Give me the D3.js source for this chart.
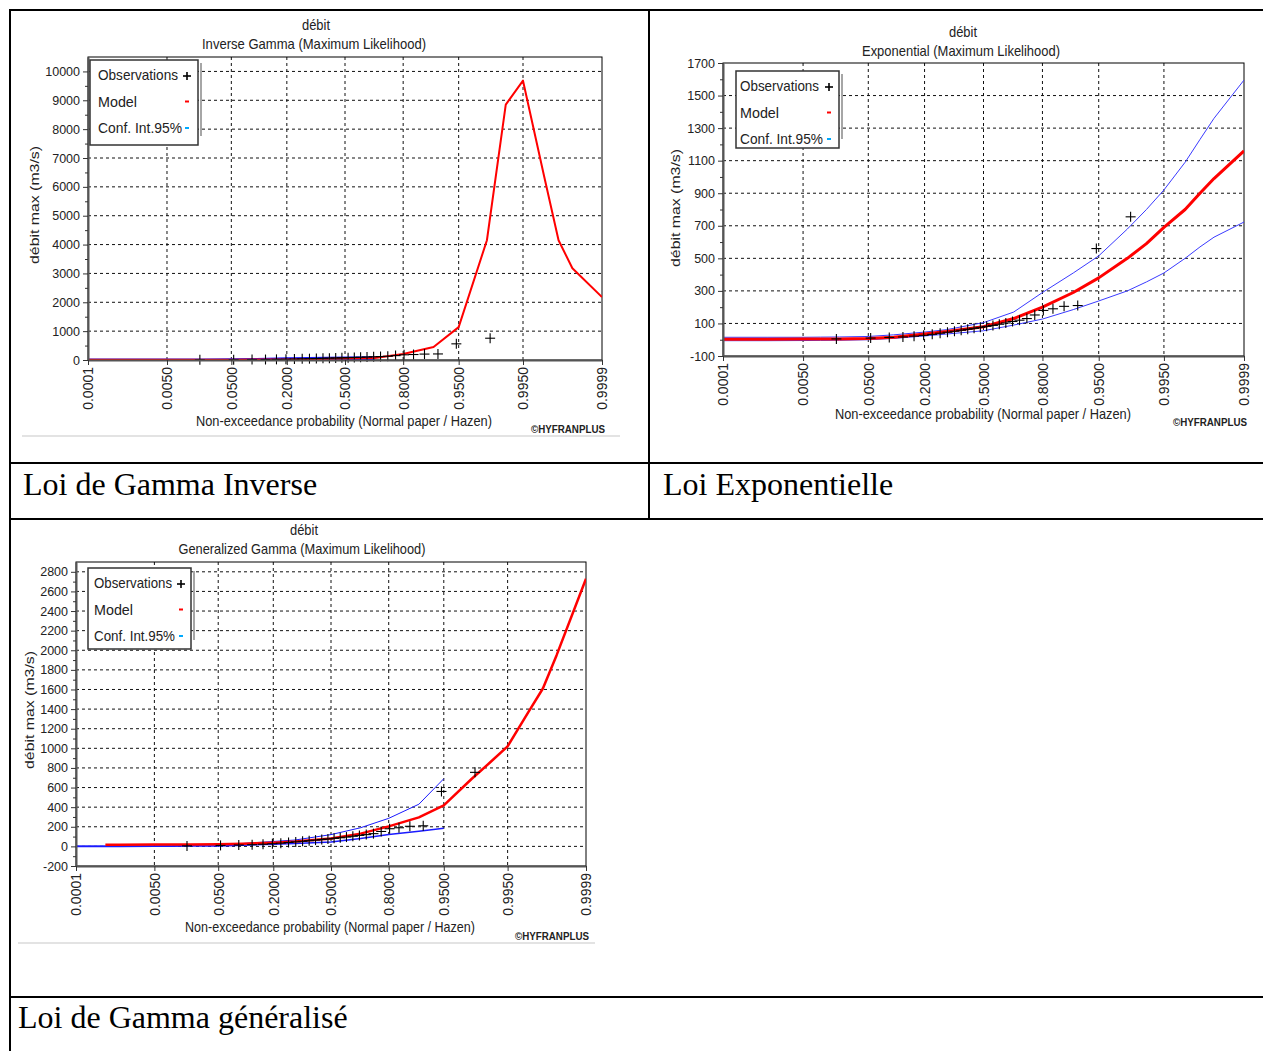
<!DOCTYPE html>
<html lang="fr">
<head>
<meta charset="utf-8">
<title>Lois HYFRAN</title>
<script src="https://cdn.jsdelivr.net/npm/d3@7"></script>
<style>
  body { margin: 0; background: #fff; }
  svg text { font-family: "Liberation Sans", Arial, sans-serif; fill: #222; }
  svg text.cell { font-family: "Liberation Serif", "Times New Roman", serif; fill: #000; }
</style>
</head>
<body>
<svg width="1263" height="1051"></svg>
<script>
// x axis (normal probability paper)
const probTicks = [0.0001, 0.005, 0.05, 0.2, 0.5, 0.8, 0.95, 0.995, 0.9999];
const probTickLabels = ["0.0001", "0.0050", "0.0500", "0.2000", "0.5000", "0.8000", "0.9500", "0.9950", "0.9999"];

// probabilities where model / CI curves are drawn
const curveProbs = [0.0001, 0.0005, 0.001, 0.005, 0.01, 0.02, 0.05, 0.1, 0.2, 0.3, 0.5, 0.6667,
                    0.8, 0.9, 0.95, 0.98, 0.99, 0.995, 0.998, 0.999, 0.9995, 0.9999];

// observed maxima, sorted (Hazen plotting positions)
const obsFlows = [5, 10, 14, 17, 22, 27, 33, 40, 46, 52, 58, 64, 70, 76, 82, 88, 95, 103, 112, 120,
                  130, 152, 180, 190, 205, 210, 560, 755];

// Inverse Gamma
const invGammaModel = [10, 10, 10, 10, 10, 10, 12, 15, 20, 30, 50, 70, 210, 450, 1140, 4150, 8850, 9680, 6400, 4150, 3180, 2180];
const invGammaUpper = [0, 0, 0, 0, 0, 0, 5, 15, 40, 55, 70, 80];
const invGammaLower = [0, 0, 0, 0, 0, 0, 0, 2, 5, 10, 15, 20];
const invGammaYTicks = [0, 1000, 2000, 3000, 4000, 5000, 6000, 7000, 8000, 9000, 10000];

// Exponential
const expModel = [3, 3, 3, 4, 4, 5, 8, 15, 35, 50, 80, 130, 200, 290, 380, 500, 590, 690, 800, 900, 990, 1160];
const expUpper = [15, 15, 15, 15, 16, 17, 20, 30, 47, 62, 105, 170, 290, 410, 515, 680, 800, 920, 1090, 1230, 1360, 1595];
const expLower = [-6, -6, -6, -5, -4, -3, 0, 8, 23, 35, 55, 90, 127, 185, 238, 300, 355, 410, 500, 570, 630, 723];
const expYTicks = [-100, 100, 300, 500, 700, 900, 1100, 1300, 1500, 1700];

// Generalized Gamma
const genGammaModel = [null, 17, 17, 18, 18, 19, 22, 28, 38, 50, 80, 130, 204, 296, 418, 690, 860, 1020, 1370, 1610, 1950, 2730];
const genGammaUpper = [5, 5, 5, 6, 7, 9, 15, 30, 50, 65, 120, 190, 286, 430, 690];
const genGammaLower = [0, 0, 0, 1, 2, 3, 5, 12, 22, 30, 45, 80, 120, 155, 185];
const genGammaYTicks = [-200, 0, 200, 400, 600, 800, 1000, 1200, 1400, 1600, 1800, 2000, 2200, 2400, 2600, 2800];

const legendItems = ["Observations", "Model", "Conf. Int.95%"];
const cellLabels = ["Loi de Gamma Inverse", "Loi Exponentielle", "Loi de Gamma généralisé"];

// inverse normal cdf (Acklam)
function qnorm(p) {
  const a = [-3.969683028665376e+01, 2.209460984245205e+02, -2.759285104469687e+02, 1.383577518672690e+02, -3.066479806614716e+01, 2.506628277459239e+00];
  const b = [-5.447609879822406e+01, 1.615858368580409e+02, -1.556989798598866e+02, 6.680131188771972e+01, -1.328068155288572e+01];
  const c = [-7.784894002430293e-03, -3.223964580411365e-01, -2.400758277161838e+00, -2.549732539343734e+00, 4.374664141464968e+00, 2.938163982698783e+00];
  const d = [7.784695709041462e-03, 3.224671290700398e-01, 2.445134137142996e+00, 3.754408661907416e+00];
  const pl = 0.02425;
  if (p < pl) {
    const q = Math.sqrt(-2 * Math.log(p));
    return (((((c[0]*q+c[1])*q+c[2])*q+c[3])*q+c[4])*q+c[5]) / ((((d[0]*q+d[1])*q+d[2])*q+d[3])*q+1);
  }
  if (p > 1 - pl) {
    const q = Math.sqrt(-2 * Math.log(1 - p));
    return -(((((c[0]*q+c[1])*q+c[2])*q+c[3])*q+c[4])*q+c[5]) / ((((d[0]*q+d[1])*q+d[2])*q+d[3])*q+1);
  }
  const q = p - 0.5, r = q * q;
  return (((((a[0]*r+a[1])*r+a[2])*r+a[3])*r+a[4])*r+a[5])*q / (((((b[0]*r+b[1])*r+b[2])*r+b[3])*r+b[4])*r+1);
}

const svg = d3.select('svg');

// squeeze text to the width seen in the picture
const fit = (sel, w) => sel.attr('textLength', w).attr('lengthAdjust', 'spacingAndGlyphs');

// table borders
const table = svg.append('g').attr('stroke', '#000').attr('stroke-width', 2);
table.append('line').attr('x1', 10).attr('x2', 1263).attr('y1', 10).attr('y2', 10);
table.append('line').attr('x1', 10).attr('x2', 10).attr('y1', 9).attr('y2', 1051);
table.append('line').attr('x1', 649).attr('x2', 649).attr('y1', 10).attr('y2', 519);
[463, 519, 997].forEach(yy => {
  table.append('line').attr('x1', 10).attr('x2', 1263).attr('y1', yy).attr('y2', yy);
});
svg.append('text').attr('class', 'cell').attr('x', 23).attr('y', 495).attr('font-size', 32).text(cellLabels[0]);
svg.append('text').attr('class', 'cell').attr('x', 663).attr('y', 495).attr('font-size', 32).text(cellLabels[1]);
svg.append('text').attr('class', 'cell').attr('x', 18).attr('y', 1028).attr('font-size', 32).text(cellLabels[2]);

function drawChart(cfg) {
  const g = svg.append('g');
  const x = d3.scaleLinear()
    .domain([qnorm(0.0001), qnorm(0.9999)])
    .range([cfg.x0, cfg.x1]);
  const y = d3.scaleLinear()
    .domain(cfg.yDomain)
    .range([cfg.y1, cfg.y0]);
  const px = p => x(qnorm(p));

  // grid
  const grid = g.append('g').attr('stroke', '#111').attr('stroke-width', 1).attr('stroke-dasharray', '3,3');
  cfg.yTicks.filter(v => y(v) > cfg.y0 + 1 && y(v) < cfg.y1 - 1).forEach(v => {
    grid.append('line').attr('x1', cfg.x0).attr('x2', cfg.x1).attr('y1', y(v)).attr('y2', y(v));
  });
  probTicks.slice(1, -1).forEach(p => {
    grid.append('line').attr('x1', px(p)).attr('x2', px(p)).attr('y1', cfg.y0).attr('y2', cfg.y1);
  });

  // frame
  g.append('rect').attr('x', cfg.x0).attr('y', cfg.y0)
    .attr('width', cfg.x1 - cfg.x0).attr('height', cfg.y1 - cfg.y0)
    .attr('fill', 'none').attr('stroke', '#000').attr('stroke-width', 1);

  // curves
  const clipId = 'clip' + cfg.id;
  g.append('clipPath').attr('id', clipId).append('rect')
    .attr('x', cfg.x0).attr('y', cfg.y0 - 2).attr('width', cfg.x1 - cfg.x0).attr('height', cfg.y1 - cfg.y0 + 2);
  const curves = g.append('g').attr('clip-path', `url(#${clipId})`);
  const line = d3.line()
    .defined(d => d[1] !== null)
    .x(d => px(d[0]))
    .y(d => y(d[1]));
  const pairs = vals => vals.map((v, i) => [curveProbs[i], v]);

  curves.append('path').datum(pairs(cfg.lower)).attr('d', line)
    .attr('fill', 'none').attr('stroke', cfg.blue).attr('stroke-width', cfg.lowerWidth);
  curves.append('path').datum(pairs(cfg.upper)).attr('d', line)
    .attr('fill', 'none').attr('stroke', cfg.blue).attr('stroke-width', cfg.upperWidth);
  curves.append('path').datum(pairs(cfg.model)).attr('d', line)
    .attr('fill', 'none').attr('stroke', '#ff0000').attr('stroke-width', cfg.modelWidth)
    .attr('stroke-linejoin', 'round');

  // observations
  const n = obsFlows.length;
  const obs = g.append('g').attr('stroke', '#000').attr('stroke-width', 1.1);
  obsFlows.forEach((v, i) => {
    const cx = px((i + 0.5) / n), cy = y(v);
    obs.append('line').attr('x1', cx - 5).attr('x2', cx + 5).attr('y1', cy).attr('y2', cy);
    obs.append('line').attr('x1', cx).attr('x2', cx).attr('y1', cy - 5).attr('y2', cy + 5);
  });

  // axes
  const yAxisG = g.append('g').attr('transform', `translate(${cfg.x0},0)`);
  yAxisG.call(d3.axisLeft(y).tickValues(cfg.yTicks).tickSize(5).tickSizeOuter(0).tickFormat(d => String(d)));
  yAxisG.select('.domain').attr('stroke', '#555').attr('stroke-width', 2);
  yAxisG.selectAll('.tick line').attr('stroke', '#333');
  yAxisG.selectAll('text').attr('font-size', 12.5).attr('fill', '#222').attr('x', -8)
    .style('font-family', '"Liberation Sans", Arial, sans-serif');
  const minorG = g.append('g').attr('transform', `translate(${cfg.x0},0)`);
  minorG.call(d3.axisLeft(y).tickValues(cfg.yMinor).tickSize(3).tickFormat(''));
  minorG.select('.domain').remove();
  minorG.selectAll('.tick line').attr('stroke', '#333');

  const xAxisG = g.append('g').attr('transform', `translate(0,${cfg.y1})`);
  xAxisG.call(d3.axisBottom(x).tickValues(probTicks.map(qnorm)).tickSize(5).tickSizeOuter(0)
    .tickFormat((d, i) => probTickLabels[i]));
  xAxisG.select('.domain').attr('stroke', '#555').attr('stroke-width', 2);
  xAxisG.selectAll('.tick line').attr('stroke', '#333');
  xAxisG.selectAll('text')
    .attr('font-size', 14).attr('fill', '#222')
    .attr('transform', 'rotate(-90)')
    .attr('x', -7).attr('y', 0).attr('dy', '0.35em')
    .style('text-anchor', 'end')
    .style('font-family', '"Liberation Sans", Arial, sans-serif');

  // titles
  fit(g.append('text').attr('x', cfg.titleX).attr('y', cfg.titleY).attr('text-anchor', 'middle')
    .attr('font-size', 14.5).text('débit'), 28);
  fit(g.append('text').attr('x', cfg.titleX - 2).attr('y', cfg.titleY + 19).attr('text-anchor', 'middle')
    .attr('font-size', 14.5).text(cfg.title), cfg.titleW);
  fit(g.append('text')
    .attr('transform', `translate(${cfg.yLabelX},${cfg.yLabelY}) rotate(-90)`)
    .attr('text-anchor', 'middle').attr('font-size', 13.5)
    .text('débit   max (m3/s)'), 118);
  fit(g.append('text').attr('x', cfg.xLabelX).attr('y', cfg.xLabelY).attr('text-anchor', 'middle')
    .attr('font-size', 15).text('Non-exceedance probability (Normal paper / Hazen)'), cfg.xLabelW);
  fit(g.append('text').attr('x', cfg.creditX).attr('y', cfg.creditY).attr('text-anchor', 'middle')
    .attr('font-size', 10).attr('font-weight', 'bold').attr('fill', '#333').text('©HYFRANPLUS'), 74);
  if (cfg.baseY) {
    g.append('line').attr('x1', cfg.baseX0).attr('x2', cfg.baseX1).attr('y1', cfg.baseY).attr('y2', cfg.baseY)
      .attr('stroke', '#e3e3e3').attr('stroke-width', 2);
  }

  // legend
  const lg = cfg.legend;
  g.append('line').attr('x1', lg.x1 + 3).attr('x2', lg.x1 + 3).attr('y1', lg.y0 + 3).attr('y2', lg.y1 - 9)
    .attr('stroke', '#888').attr('stroke-width', 1.5);
  g.append('rect').attr('x', lg.x0).attr('y', lg.y0).attr('width', lg.x1 - lg.x0).attr('height', lg.y1 - lg.y0)
    .attr('fill', '#fff').attr('stroke', '#333').attr('stroke-width', 1.5);
  legendItems.forEach((t, i) => {
    const ty = lg.y0 + 15 + i * 26.5;
    fit(g.append('text').attr('x', lg.textX).attr('y', ty).attr('dy', '0.35em').attr('font-size', 15).text(t),
      lg.widths[i]);
  });
  const sx = lg.symX;
  g.append('line').attr('x1', sx - 4).attr('x2', sx + 4).attr('y1', lg.y0 + 16).attr('y2', lg.y0 + 16).attr('stroke', '#000').attr('stroke-width', 1.6);
  g.append('line').attr('x1', sx).attr('x2', sx).attr('y1', lg.y0 + 12).attr('y2', lg.y0 + 20).attr('stroke', '#000').attr('stroke-width', 1.6);
  g.append('line').attr('x1', sx - 2).attr('x2', sx + 2).attr('y1', lg.y0 + 41.5).attr('y2', lg.y0 + 41.5).attr('stroke', '#ff0000').attr('stroke-width', 2);
  g.append('line').attr('x1', sx - 2).attr('x2', sx + 2).attr('y1', lg.y0 + 68).attr('y2', lg.y0 + 68).attr('stroke', '#00aaff').attr('stroke-width', 2);
}

drawChart({
  id: 1, x0: 88, x1: 602, y0: 57, y1: 360, yDomain: [0, 10500],
  yTicks: invGammaYTicks, yMinor: d3.range(500, 10500, 1000),
  model: invGammaModel, upper: invGammaUpper, lower: invGammaLower,
  blue: '#1a1aff', modelWidth: 2, upperWidth: 3, lowerWidth: 2,
  title: 'Inverse Gamma  (Maximum Likelihood)', titleW: 224, titleX: 316, titleY: 30,
  yLabelX: 39, yLabelY: 205, xLabelX: 344, xLabelY: 426, xLabelW: 296, creditX: 568, creditY: 433,
  baseY: 436, baseX0: 22, baseX1: 620,
  legend: { x0: 90, y0: 60, x1: 198, y1: 145, textX: 98, symX: 187, widths: [80, 39, 84] }
});

drawChart({
  id: 2, x0: 723, x1: 1244, y0: 63, y1: 356, yDomain: [-100, 1700],
  yTicks: expYTicks, yMinor: d3.range(0, 1700, 200),
  model: expModel, upper: expUpper, lower: expLower,
  blue: '#3a3aff', modelWidth: 3, upperWidth: 1, lowerWidth: 1,
  title: 'Exponential (Maximum Likelihood)', titleW: 198, titleX: 963, titleY: 37,
  yLabelX: 680, yLabelY: 208, xLabelX: 983, xLabelY: 419, xLabelW: 296, creditX: 1210, creditY: 426,
  legend: { x0: 736, y0: 71, x1: 839, y1: 148, textX: 740, symX: 829, widths: [79, 39, 83] }
});

drawChart({
  id: 3, x0: 76, x1: 586, y0: 562, y1: 866, yDomain: [-200, 2900],
  yTicks: genGammaYTicks, yMinor: d3.range(-100, 2900, 200),
  model: genGammaModel, upper: genGammaUpper, lower: genGammaLower,
  blue: '#1a1aff', modelWidth: 2.5, upperWidth: 1, lowerWidth: 1.5,
  title: 'Generalized Gamma  (Maximum Likelihood)', titleW: 247, titleX: 304, titleY: 535,
  yLabelX: 34, yLabelY: 710, xLabelX: 330, xLabelY: 932, xLabelW: 290, creditX: 552, creditY: 940,
  baseY: 943, baseX0: 18, baseX1: 595,
  legend: { x0: 88, y0: 568, x1: 191, y1: 649, textX: 94, symX: 181, widths: [78, 39, 81] }
});
</script>
</body>
</html>
